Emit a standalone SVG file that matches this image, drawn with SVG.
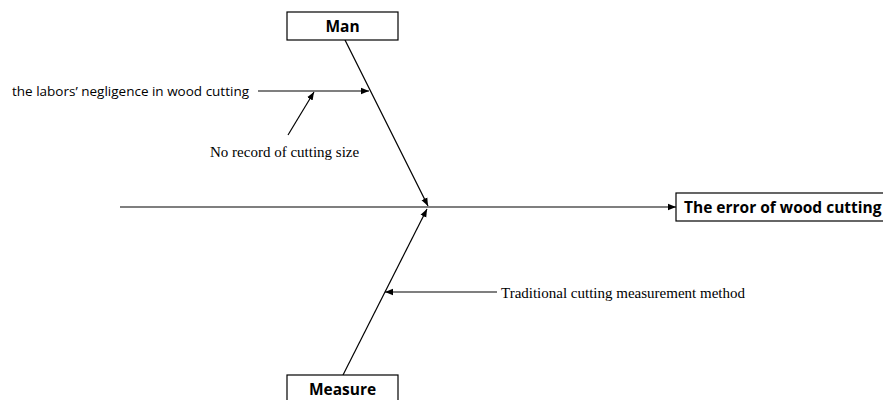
<svg xmlns="http://www.w3.org/2000/svg" width="883" height="400" viewBox="0 0 883 400">
<defs>
<marker id="ah" viewBox="0 0 10 10" refX="10" refY="5" markerWidth="8" markerHeight="8" markerUnits="userSpaceOnUse" orient="auto"><path d="M0,1 L10,5 L0,9 Z" fill="#000"/></marker>
</defs>
<style>
.box{fill:#fff;stroke:#000;stroke-width:1.2}
.ln{stroke:#000;stroke-width:1.2;fill:none;marker-end:url(#ah)}
.b{font-family:"Open Sans","Liberation Sans",sans-serif;font-weight:bold;font-size:15.5px;fill:#000}
.s{font-family:"Open Sans","Liberation Sans",sans-serif;font-size:13.5px;fill:#000}
.t{font-family:"Liberation Serif",serif;font-size:15px;fill:#000}
</style>
<rect width="883" height="400" fill="#fff"/>
<g id="connectors">
<line class="ln" x1="120" y1="207" x2="676" y2="207"/>
<line class="ln" x1="345" y1="40" x2="428" y2="206"/>
<line class="ln" x1="343" y1="375" x2="427" y2="209"/>
<line class="ln" x1="258" y1="91" x2="369" y2="91"/>
<line class="ln" x1="288" y1="135" x2="314" y2="92"/>
<line class="ln" x1="497" y1="292" x2="385" y2="292"/>
</g>
<g id="man">
<rect class="box" x="287" y="12" width="111" height="28"/>
<text class="b" x="342.5" y="32" text-anchor="middle">Man</text>
</g>
<g id="measure">
<rect class="box" x="287" y="375" width="111" height="30"/>
<text class="b" x="342.5" y="395" text-anchor="middle">Measure</text>
</g>
<g id="effect">
<rect class="box" x="676" y="193" width="210" height="28"/>
<text class="b" x="684" y="213">The error of wood cutting</text>
</g>
<g id="cause1">
<text class="s" x="12" y="96">the labors’ negligence in wood cutting</text>
</g>
<g id="cause2">
<text class="t" x="210" y="157">No record of cutting size</text>
</g>
<g id="cause3">
<text class="t" x="501" y="298">Traditional cutting measurement method</text>
</g>
</svg>
